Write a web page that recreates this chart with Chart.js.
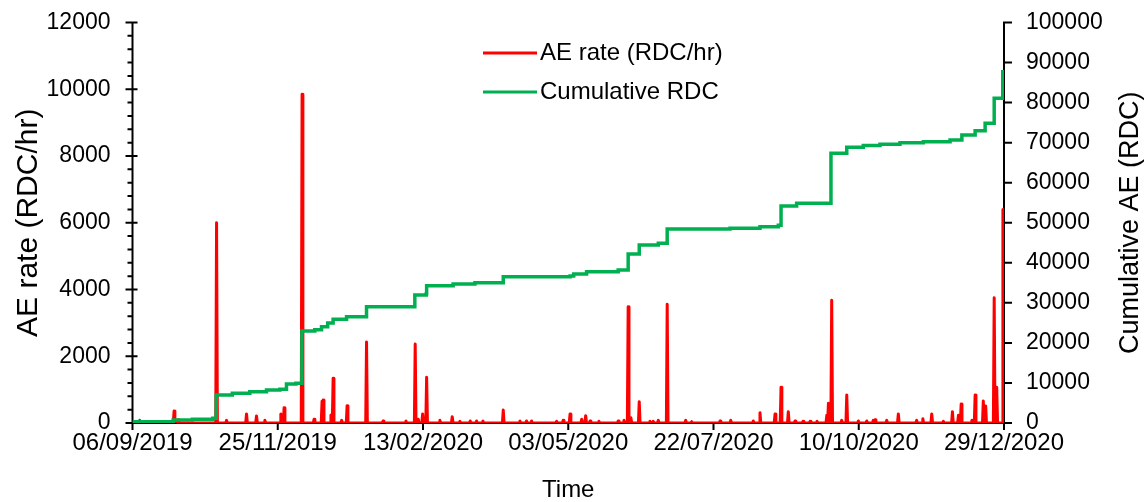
<!DOCTYPE html>
<html><head><meta charset="utf-8">
<script src="https://cdn.jsdelivr.net/npm/chart.js@4.4.1/dist/chart.umd.min.js"></script>
<style>html,body{margin:0;padding:0;background:#fff;}#wrap{width:1147px;height:502px;position:relative;}canvas{display:block;}</style>
</head><body><div id="wrap"><canvas id="c" width="1147" height="502" style="width:1147px;height:502px"></canvas></div>
<script>
// x axis: days since 06/09/2019
const xTickLabels = ['06/09/2019','25/11/2019','13/02/2020','03/05/2020','22/07/2020','10/10/2020','29/12/2020'];
const seriesNames = ['AE rate (RDC/hr)', 'Cumulative RDC'];
const axisTitles = ['Time', 'AE rate (RDC/hr)', 'Cumulative AE (RDC)'];

// AE rate peaks (day, RDC/hr)
const rateDays = [4.0,22.9,25.1,46.3,51.8,62.8,68.3,72.9,81.7,83.5,93.4,100.0,104.4,105.0,109.3,110.5,115.2,118.2,128.9,138.0,150.6,155.7,157.4,159.8,162.0,169.3,176.1,180.3,186.0,189.5,193.0,204.2,213.4,217.0,219.8,233.6,237.2,241.0,247.4,249.6,252.0,256.9,267.5,270.7,273.0,274.5,279.1,285.0,286.8,289.6,294.5,304.7,308.0,323.6,329.5,341.9,345.6,353.9,357.2,361.2,364.9,369.3,373.2,377.0,382.4,383.3,385.1,390.6,393.4,399.8,404.4,408.0,409.0,415.4,421.8,431.9,435.3,440.2,446.6,451.6,454.9,456.4,462.3,464.1,468.6,469.9,474.6,476.0,479.4];
const rateValues = [80,360,100,6000,80,270,210,80,270,460,9850,110,650,690,240,1340,80,520,2430,60,60,2370,110,270,1370,80,190,50,60,60,60,390,60,60,60,50,80,270,110,220,60,50,60,80,3480,160,640,50,50,80,3560,80,40,60,80,60,310,270,1070,340,60,50,50,50,230,590,3680,80,840,60,60,80,100,80,270,80,130,270,50,340,230,570,80,840,660,510,3750,1070,6400];

// Cumulative RDC: day at which the running total reaches each value
const cumDays = [
  0, 22.4, 33.0, 44.2, 46.1, 55.0, 64.6, 73.8, 81.2, 84.8,
  90.0, 93.3, 100.4, 104.1, 107.5, 110.5, 117.9, 128.9, 155.5, 161.8,
  162.0, 176.6, 188.6, 204.2, 241.0, 243.0, 250.1, 267.5, 273.0, 279.1,
  289.6, 294.5, 329.1, 345.6, 355.7, 357.2, 365.8, 384.7, 393.4, 402.5,
  411.7, 422.7, 435.6, 450.3, 456.8, 464.1, 469.6, 474.6, 479.3
];
const cumValues = [
  300, 750, 950, 1170, 7000, 7400, 7810, 8240, 8410, 9740,
  9900, 23000, 23300, 24040, 25000, 25890, 26540, 29040, 31960, 32300,
  34300, 34700, 35030, 36530, 36700, 37200, 37780, 38200, 42200, 44440,
  44860, 48440, 48600, 49020, 49400, 54180, 54860, 67340, 68840, 69300,
  69590, 69950, 70240, 70660, 71910, 72990, 74830, 81070, 88140
];

// build line tables for the library
const rateData = [{x:0,y:0}];
rateDays.forEach((d,i)=>{ rateData.push({x:d-0.45,y:0},{x:d,y:rateValues[i]},{x:d+0.45,y:0}); });
const cumData = cumDays.map((d,i)=>({x:d,y:cumValues[i]}));

const FONT = '"Liberation Sans", Arial, sans-serif';

const axesPlugin = {
  id:'axesDecor',
  beforeDatasetsDraw(chart){
    const {ctx, chartArea:a, scales} = chart;
    ctx.save();
    ctx.strokeStyle='#000'; ctx.lineWidth=2; ctx.lineCap='butt';
    ctx.beginPath();
    ctx.moveTo(a.left, a.top-1); ctx.lineTo(a.left, a.bottom);
    ctx.moveTo(a.right, a.top-1); ctx.lineTo(a.right, a.bottom);
    ctx.moveTo(a.left, a.bottom); ctx.lineTo(a.right, a.bottom);
    for(let v=0; v<=12000; v+=400){
      const y = scales.y.getPixelForValue(v);
      if(v%2000===0){ ctx.moveTo(a.left-7,y); ctx.lineTo(a.left+5,y); }
      else { ctx.moveTo(a.left-5,y); ctx.lineTo(a.left,y); }
    }
    for(let v=0; v<=100000; v+=10000){
      const y = scales.y2.getPixelForValue(v);
      ctx.moveTo(a.right,y); ctx.lineTo(a.right+8,y);
    }
    for(let v=0; v<=480; v+=80){
      const x = scales.x.getPixelForValue(v);
      ctx.moveTo(x,a.bottom); ctx.lineTo(x,a.bottom+7);
    }
    ctx.stroke();
    ctx.restore();
  },
  afterDraw(chart){
    const {ctx, chartArea:a} = chart;
    ctx.save();
    ctx.fillStyle='#000';
    ctx.textBaseline='middle';
    ctx.textAlign='center';
    ctx.font = '24px ' + FONT;
    ctx.fillText(axisTitles[0], (a.left+a.right)/2, 490);
    const cy = (a.top+a.bottom)/2;
    ctx.font = '30px ' + FONT;
    ctx.save(); ctx.translate(29, cy); ctx.rotate(-Math.PI/2); ctx.fillText(axisTitles[1],0,0); ctx.restore();
    ctx.font = '27px ' + FONT;
    ctx.save(); ctx.translate(1131, cy); ctx.rotate(-Math.PI/2); ctx.fillText(axisTitles[2],0,0); ctx.restore();
    ctx.font = '24px ' + FONT;
    ctx.textAlign='left';
    const ds = chart.data.datasets;
    const rows = [53, 92];
    ds.forEach((d,i)=>{
      ctx.strokeStyle = d.borderColor; ctx.lineWidth = 3;
      ctx.beginPath(); ctx.moveTo(483, rows[i]); ctx.lineTo(537, rows[i]); ctx.stroke();
      ctx.fillText(d.label, 540, rows[i]);
    });
    ctx.restore();
  }
};

const plain = (v)=> String(v);

new Chart(document.getElementById('c'), {
  type:'line',
  data:{ datasets:[
    { label: seriesNames[0], data: rateData, yAxisID:'y', borderColor:'#FF0000', borderWidth:3, pointRadius:0, tension:0, order:1, borderJoinStyle:'round' },
    { label: seriesNames[1], data: cumData, yAxisID:'y2', borderColor:'#00B050', borderWidth:3.5, pointRadius:0, tension:0, stepped:true, order:0 }
  ]},
  options:{
    responsive:false, animation:false, devicePixelRatio:1,
    layout:{ padding:{ top:22.5, left:0, right:0, bottom:0 } },
    plugins:{ legend:{display:false}, tooltip:{enabled:false} },
    scales:{
      x:{ type:'linear', min:0, max:480, position:'bottom',
          grid:{display:false}, border:{display:false},
          afterFit(s){ s.height = 79; s.paddingLeft = 0; s.paddingRight = 0; },
          afterBuildTicks(s){ s.ticks = xTickLabels.map((l,i)=>({value:i*80})); },
          ticks:{ autoSkip:false, maxRotation:0, padding:-2, color:'#000', font:{size:24, family:FONT},
                  callback:(v)=> xTickLabels[Math.round(v/80)] } },
      y:{ type:'linear', position:'left', min:0, max:12000,
          grid:{display:false}, border:{display:false},
          afterFit(s){ s.width = 132.5; s.paddingTop = 0; s.paddingBottom = 0; },
          ticks:{ stepSize:2000, padding:14, color:'#000', font:{size:23, family:FONT}, callback:plain } },
      y2:{ type:'linear', position:'right', min:0, max:100000,
          grid:{display:false}, border:{display:false},
          afterFit(s){ s.width = 143; s.paddingTop = 0; s.paddingBottom = 0; },
          ticks:{ stepSize:10000, padding:14, color:'#000', font:{size:23, family:FONT}, callback:plain } }
    }
  },
  plugins:[axesPlugin]
});
</script></body></html>
